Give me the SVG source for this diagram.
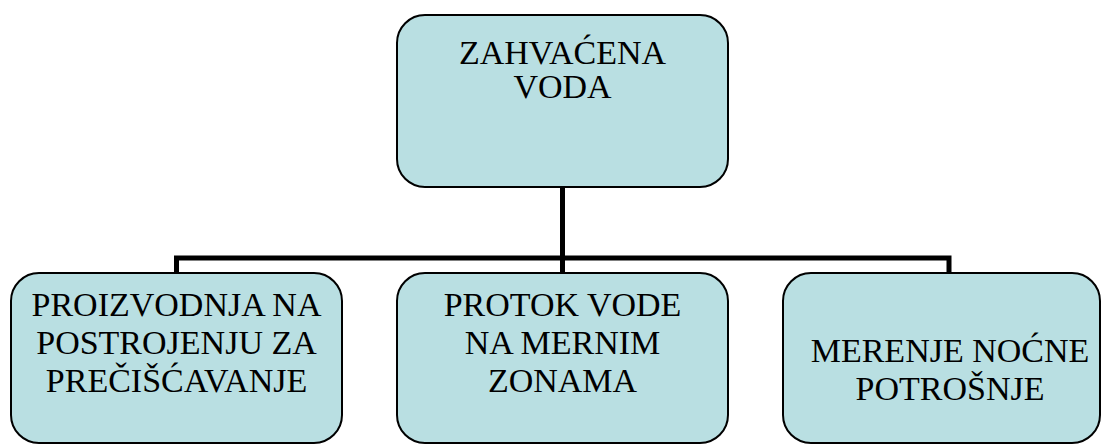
<svg xmlns="http://www.w3.org/2000/svg" width="1102" height="444" viewBox="0 0 1102 444">
<style>
.box{fill:#b9dfe2;stroke:#000;stroke-width:2}
.t{font-family:"Liberation Serif","Times New Roman",serif;font-size:34px;fill:#000;text-anchor:middle}
.c{fill:none;stroke:#000;stroke-width:5}
</style>
<rect width="1102" height="444" fill="#fff"/>
<g id="connectors">
<path class="c" d="M562.5 187 V258"/>
<path class="c" d="M176.5 273 V258 H949 V273"/>
<path class="c" d="M562.5 258 V273"/>
</g>
<g id="node-top">
<rect class="box" x="397" y="15" width="331" height="172" rx="28"/>
<text class="t" x="562.5" y="64">ZAHVAĆENA</text>
<text class="t" x="562.5" y="98">VODA</text>
</g>
<g id="node-left">
<rect class="box" x="11" y="273" width="331" height="170" rx="28"/>
<text class="t" x="176.5" y="316">PROIZVODNJA NA</text>
<text class="t" x="176.5" y="354">POSTROJENJU ZA</text>
<text class="t" x="176.5" y="392">PREČIŠĆAVANJE</text>
</g>
<g id="node-middle">
<rect class="box" x="397" y="273" width="331" height="170" rx="28"/>
<text class="t" x="562.5" y="316">PROTOK VODE</text>
<text class="t" x="562.5" y="354">NA MERNIM</text>
<text class="t" x="562.5" y="392">ZONAMA</text>
</g>
<g id="node-right">
<rect class="box" x="783" y="273" width="317" height="170" rx="28"/>
<text class="t" x="950" y="362">MERENJE NOĆNE</text>
<text class="t" x="950" y="400">POTROŠNJE</text>
</g>
</svg>
